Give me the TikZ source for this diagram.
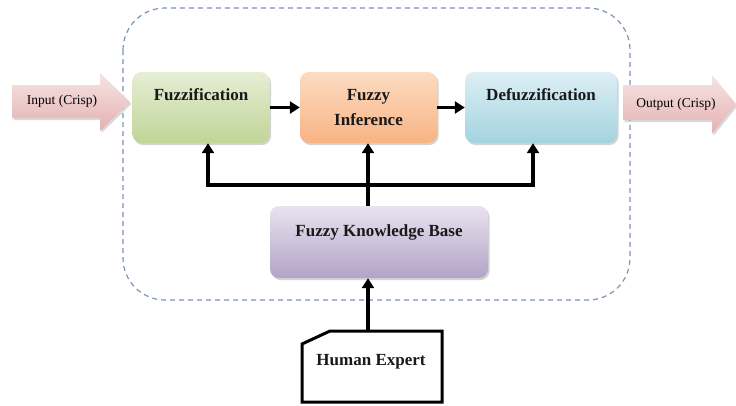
\documentclass[tikz,border=0pt]{standalone}
\usepackage{fontspec}
\setmainfont{Liberation Serif}
\usetikzlibrary{shadows,arrows.meta}
\definecolor{gL}{HTML}{E6EED5}\definecolor{gD}{HTML}{C0D597}
\definecolor{oL}{HTML}{FCDCC2}\definecolor{oD}{HTML}{F8B383}
\definecolor{bL}{HTML}{DDEFF4}\definecolor{bD}{HTML}{A3D3E0}
\definecolor{pL}{HTML}{E8E3EF}\definecolor{pD}{HTML}{B3A3C8}
\definecolor{rL}{HTML}{F7E4E4}\definecolor{rD}{HTML}{E3B1B0}
\definecolor{dashc}{HTML}{7A92B4}
\tikzset{
  box/.style={rounded corners=9pt, draw=none, drop shadow={shadow xshift=1.5pt, shadow yshift=-2pt, opacity=.35}},
  lbl/.style={font=\bfseries\fontsize{17}{19}\selectfont, inner sep=0pt, text=black!90},
  io/.style={font=\fontsize{13.5}{15}\selectfont, inner sep=0pt},
  conn/.style={line width=3.3pt, -{Triangle[length=10pt,width=12pt]}},
}
\begin{document}
\begin{tikzpicture}[x=1pt,y=-1pt]
\useasboundingbox (0,0) rectangle (736,405);
% container
\draw[dashc, line width=1.2pt, dash pattern=on 5pt off 4pt, rounded corners=42pt] (123,8) rectangle (630,300);
% input arrow
\path[top color=rL, bottom color=rD, drop shadow={shadow xshift=1.5pt, shadow yshift=-2pt, opacity=.3}]
  (12,85) -- (100,85) -- (100,73) -- (130,102) -- (100,131) -- (100,118) -- (12,118) -- cycle;
\node[io] (in) at (62,101) {Input (Crisp)};
% output arrow
\path[top color=rL, bottom color=rD, drop shadow={shadow xshift=1.5pt, shadow yshift=-2pt, opacity=.3}]
  (623,85) -- (712,85) -- (712,75) -- (736,104) -- (712,134) -- (712,120) -- (623,120) -- cycle;
\node[io] (out) at (676,104) {Output (Crisp)};
% boxes
\node[box, top color=gL, bottom color=gD, minimum width=137pt, minimum height=71pt] (fuzz) at (201,107.5) {};
\node[box, top color=oL, bottom color=oD, minimum width=137pt, minimum height=71pt] (inf) at (368.5,107.5) {};
\node[box, top color=bL, bottom color=bD, minimum width=152pt, minimum height=71pt] (defuzz) at (541,107.5) {};
\node[box, top color=pL, bottom color=pD, minimum width=218pt, minimum height=72pt] (kb) at (379,242) {};
\node[lbl] (fuzzt) at (201,95) {Fuzzification};
\node[lbl, align=center, font=\bfseries\fontsize{17}{25}\selectfont] (inft) at (368.5,108) {Fuzzy\\Inference};
\node[lbl] (defuzzt) at (541,95) {Defuzzification};
\node[lbl] (kbt) at (379,232) {Fuzzy Knowledge Base};
% human expert
\draw[line width=3pt, fill=white] (330,331) -- (442,331) -- (442,402) -- (302,402) -- (302,344) -- cycle;
\coordinate (he) at (368,331);
\node[lbl] (het) at (371,362) {Human Expert};
% connectors
\coordinate (hub) at (368,185);
\coordinate (lft) at (208,185);
\coordinate (rgt) at (533,185);
\draw[conn] (fuzz.east) -- (inf.west);
\draw[conn] (inf.east) -- (defuzz.west);
\draw[conn] (he) -- (he |- kb.south);
\draw[line width=3.3pt] (hub |- kb.north) -- (hub);
\draw[line width=3.3pt, line cap=rect] (lft) -- (rgt);
\draw[conn] (lft) -- (lft |- fuzz.south);
\draw[conn] (hub) -- (hub |- inf.south);
\draw[conn] (rgt) -- (rgt |- defuzz.south);
\end{tikzpicture}
\end{document}
